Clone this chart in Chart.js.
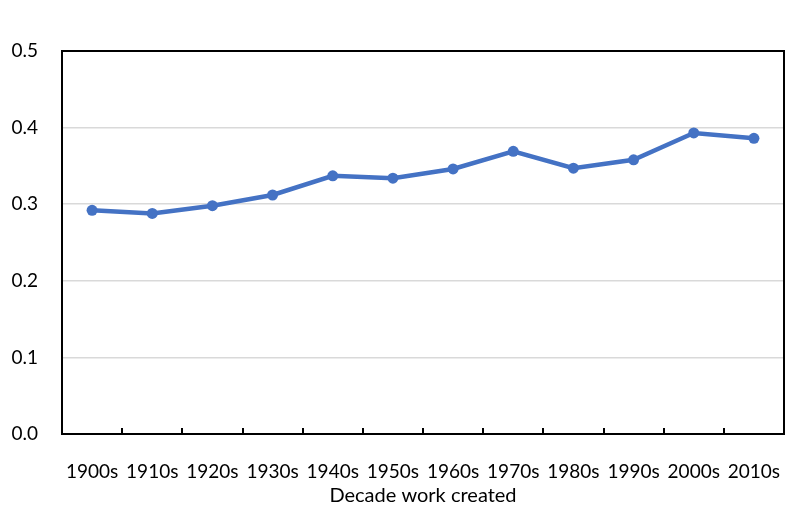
<!DOCTYPE html>
<html>
<head>
<meta charset="utf-8">
<script src="https://cdn.jsdelivr.net/npm/chart.js@4.4.0/dist/chart.umd.min.js"></script>
<style>
  html, body { margin: 0; padding: 0; background: #fff; }
  #wrap { width: 808px; height: 512px; }
</style>
</head>
<body>
<div id="wrap"><canvas id="chart"></canvas></div>
<script>
const decades = ["1900s", "1910s", "1920s", "1930s", "1940s", "1950s", "1960s", "1970s", "1980s", "1990s", "2000s", "2010s"];
const values = [0.292, 0.288, 0.298, 0.312, 0.337, 0.334, 0.346, 0.369, 0.347, 0.358, 0.393, 0.386];
const yTicks = [0, 0.1, 0.2, 0.3, 0.4, 0.5];
const xTitle = "Decade work created";

// frame around plot area + small inward ticks between categories
const framePlugin = {
    id: "frame",
    afterDraw(chart) {
        const ctx = chart.ctx;
        const a = chart.chartArea;
        const xs = chart.scales.x;
        ctx.save();
        ctx.strokeStyle = "#000";
        ctx.lineWidth = 2;
        ctx.strokeRect(a.left, a.top, a.right - a.left, a.bottom - a.top);
        ctx.beginPath();
        for (let i = 1; i < decades.length; i++) {
            const x = Math.round((xs.getPixelForValue(i - 1) + xs.getPixelForValue(i)) / 2);
            ctx.moveTo(x, a.bottom);
            ctx.lineTo(x, a.bottom - 6);
        }
        ctx.stroke();
        ctx.restore();
    }
};

new Chart(document.getElementById("chart"), {
    type: "line",
    data: {
        labels: decades,
        datasets: [{
            data: values,
            borderColor: "#4472C4",
            backgroundColor: "#4472C4",
            borderWidth: 4.5,
            pointRadius: 5.5,
            pointBackgroundColor: "#4472C4",
            pointBorderWidth: 0,
            tension: 0,
            fill: false
        }]
    },
    options: {
        responsive: true,
        maintainAspectRatio: false,
        animation: false,
        layout: { padding: { top: 51, right: 24, left: 0, bottom: 0 } },
        plugins: {
            legend: { display: false },
            tooltip: { enabled: false }
        },
        scales: {
            x: {
                offset: true,
                grid: { display: false },
                border: { display: false },
                ticks: {
                    color: "#000",
                    padding: 18,
                    maxRotation: 0,
                    font: { family: "Lato", size: 19 }
                },
                title: {
                    display: true,
                    text: xTitle,
                    color: "#000",
                    padding: { top: 0 },
                    font: { family: "Lato", size: 20 }
                },
                afterFit(scale) { scale.height = 78; }
            },
            y: {
                min: 0,
                max: 0.5,
                afterBuildTicks(scale) { scale.ticks = yTicks.map(v => ({ value: v })); },
                grid: {
                    color: "#d9d9d9",
                    lineWidth: 1.5,
                    drawTicks: false
                },
                border: { display: false },
                ticks: {
                    color: "#000",
                    padding: 24,
                    font: { family: "Lato", size: 19 },
                    callback: v => v.toFixed(1)
                },
                afterFit(scale) { scale.width = 62; }
            }
        }
    },
    plugins: [framePlugin]
});
</script>
</body>
</html>
